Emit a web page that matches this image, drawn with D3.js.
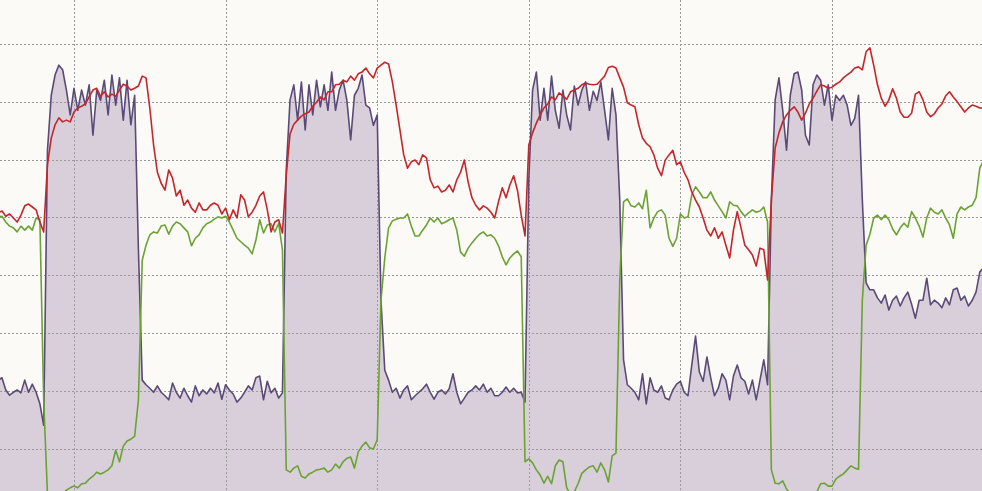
<!DOCTYPE html>
<html>
<head>
<meta charset="utf-8">
<script src="https://cdn.jsdelivr.net/npm/d3@7"></script>
<style>
html,body{margin:0;padding:0;background:#fbfaf6;overflow:hidden;}
svg{display:block;}
</style>
</head>
<body>
<svg id="chart" width="982" height="491"></svg>
<script>
// time axis: samples every 0.25 units starting at 5.0
const tStart = 5.0, tStep = 0.25;
const xTicks = [10, 20, 30, 40, 50, 60];
const yTicks = [0, 10, 20, 30, 40, 50, 60, 70];

const purple = [
11.9,12.3,10.2,9.3,9.8,10.2,9.7,11.9,9.8,11.2,9.8,7.8,4.1,51.6,61.1,64.6,66.3,65.5,62.0,57.7,
62.3,58.5,62.0,59.4,62.9,54.2,62.0,60.2,63.7,57.7,64.6,59.4,64.1,56.8,63.7,56.0,61.1,34.4,11.9,11.1,
10.5,9.8,10.9,9.8,9.2,8.5,11.4,9.8,8.8,10.5,9.2,8.1,10.9,9.2,10.2,9.5,10.5,9.7,11.4,8.6,
11.1,10.2,9.5,8.1,8.8,9.8,10.9,10.2,12.3,12.6,8.5,11.7,9.7,10.5,8.8,9.7,48.2,60.3,62.9,56.8,
63.4,55.1,62.9,57.7,63.7,59.1,62.9,58.5,65.1,58.5,62.0,63.7,60.2,53.4,61.1,62.3,64.6,59.4,58.9,55.9,
57.7,25.7,13.6,11.9,9.8,10.5,8.8,10.2,10.9,8.5,9.2,9.8,10.4,11.2,9.8,8.6,9.8,10.2,9.5,10.4,
13.0,9.8,7.8,8.8,9.8,10.2,10.9,10.2,11.2,9.8,10.5,9.2,9.2,9.8,10.7,9.8,10.5,9.7,9.8,8.1,
46.5,62.0,65.1,56.8,62.3,56.8,64.4,58.5,55.4,62.0,57.7,55.1,62.7,59.4,62.0,63.4,58.5,61.8,60.2,63.4,
58.5,53.4,62.3,57.7,43.0,15.4,11.1,10.5,9.8,8.5,13.0,7.8,12.3,10.2,9.8,10.9,8.8,8.5,10.2,11.2,
11.7,9.8,9.2,14.5,19.5,13.3,11.7,15.9,12.3,9.2,10.5,13.0,11.9,8.5,12.6,14.5,12.3,11.7,9.5,11.9,
8.5,11.9,15.4,11.1,43.0,60.3,64.1,58.5,51.6,61.1,64.8,65.1,62.0,54.2,52.5,62.9,64.6,63.7,59.4,62.9,
56.8,61.1,60.2,61.1,59.4,55.9,57.1,61.1,43.0,28.7,27.5,27.5,26.1,25.2,26.6,24.0,25.7,26.4,24.7,26.1,
27.1,25.0,22.6,25.7,25.7,29.5,24.9,25.7,25.2,24.4,26.1,24.9,27.5,27.8,25.7,26.4,24.7,25.7,27.1,30.6,
31.3
];

const red = [
40.8,41.1,40.2,40.6,39.9,39.2,40.4,42.0,42.3,41.8,41.3,39.2,37.5,49.1,53.7,56.0,57.2,56.5,56.8,56.5,
58.2,58.9,59.2,59.6,60.8,62.0,62.3,60.9,61.7,60.8,61.3,60.9,62.0,63.0,62.7,62.0,62.3,62.7,64.4,64.1,
58.9,52.5,47.8,45.9,44.7,48.2,46.8,43.7,44.7,42.1,43.0,41.6,40.9,42.5,41.3,41.3,42.1,42.5,42.1,40.6,
41.6,39.6,41.3,39.9,43.9,43.0,40.1,40.9,42.1,43.7,44.4,41.3,37.5,39.2,39.6,37.3,47.3,54.4,56.1,56.8,
57.5,57.9,58.2,59.2,59.9,60.8,60.3,61.7,61.7,62.9,63.0,63.7,63.4,64.4,63.7,64.8,65.1,65.8,64.8,64.1,
65.8,66.3,66.8,66.5,63.4,59.4,55.1,50.8,48.5,49.6,49.9,49.1,50.8,50.3,46.5,45.1,45.4,44.4,44.7,45.6,
44.4,46.5,47.8,49.9,46.1,43.4,42.1,41.3,42.0,41.6,40.9,39.9,42.7,45.1,43.4,45.6,47.2,44.7,40.4,36.8,
52.5,54.6,56.3,57.7,58.9,59.6,60.8,60.3,61.5,61.0,60.4,61.7,62.0,62.3,62.9,63.2,63.0,62.9,63.0,63.7,
64.4,65.9,66.1,65.8,64.1,62.5,59.8,59.4,59.1,56.0,53.7,52.8,52.2,50.8,48.5,47.2,49.9,50.8,51.6,49.1,
49.6,47.8,46.5,44.4,43.0,41.8,39.9,37.8,36.8,38.2,36.4,37.5,35.2,33.0,37.8,41.0,38.2,35.2,34.4,33.5,
31.6,34.7,34.4,29.2,43.0,52.0,54.6,56.5,57.7,58.5,59.1,58.2,56.8,58.0,59.6,60.6,61.8,62.9,62.7,62.3,
62.5,63.0,63.4,64.1,64.6,65.1,65.8,66.0,65.5,68.6,69.3,66.3,62.9,60.6,59.2,60.3,62.2,60.6,58.2,57.3,
57.3,58.0,61.3,61.7,60.3,58.2,57.4,57.9,58.9,59.6,61.0,61.7,60.8,60.0,59.1,58.2,58.9,59.4,59.2,58.9,
58.9
];

const green = [
40.1,40.2,39.2,38.5,38.2,37.5,38.5,37.8,38.5,37.8,39.9,39.6,8.5,-7.9,-8.3,-8.5,-8.1,-7.8,-7.1,-6.7,
-6.4,-6.7,-6.0,-5.9,-5.2,-4.7,-4.0,-4.3,-4.0,-3.6,-2.9,-0.2,-2.2,0.5,1.4,1.7,2.2,8.5,32.6,35.2,
37.0,37.5,37.3,38.5,38.7,37.1,38.5,39.2,38.9,38.2,37.5,35.1,36.4,37.0,38.2,38.9,39.2,39.7,40.1,39.9,
40.2,39.2,37.8,36.4,35.8,35.2,34.7,33.7,36.1,39.6,37.3,38.7,38.9,37.5,39.0,34.4,-3.6,-4.0,-3.3,-2.9,
-4.7,-5.0,-4.3,-4.0,-3.6,-3.5,-3.3,-4.0,-3.6,-2.6,-3.3,-2.2,-1.6,-1.4,-3.3,-0.5,0.5,1.2,0.2,0.0,
1.6,25.7,33.0,38.2,39.4,39.7,39.9,39.9,40.6,38.5,36.8,36.8,37.8,38.7,39.9,39.2,39.9,38.9,39.2,39.6,
39.9,37.8,34.0,33.3,34.7,35.6,36.4,37.1,37.5,36.8,37.0,36.4,35.1,33.2,31.8,33.0,33.7,34.2,33.2,-2.2,
-1.7,-2.4,-3.6,-4.5,-5.9,-4.7,-6.0,-2.9,-1.9,-2.2,-6.7,-7.8,-7.4,-6.0,-4.2,-3.6,-3.1,-2.9,-4.0,-2.4,
-3.6,-5.7,-1.2,-0.7,29.2,42.7,43.2,42.0,41.8,42.5,41.5,44.7,38.2,39.9,41.0,41.3,40.4,36.4,35.0,36.4,
40.6,39.9,40.1,43.9,45.3,44.4,43.4,43.4,44.4,43.0,42.0,41.0,39.9,42.7,42.1,42.0,41.0,40.2,40.8,41.3,
40.9,41.1,41.8,39.2,-3.6,-5.9,-6.0,-5.5,-6.9,-7.8,-8.1,-8.1,-7.4,-7.9,-8.1,-7.8,-7.4,-6.0,-5.9,-6.4,
-6.4,-5.2,-4.7,-4.3,-3.6,-2.9,-3.3,-3.5,25.7,35.2,37.1,39.9,40.4,39.6,40.4,39.6,38.0,37.0,38.2,39.0,
38.3,41.0,39.9,38.5,36.6,39.9,41.6,40.9,40.6,41.3,39.9,38.7,36.4,40.6,41.8,41.3,41.8,42.1,43.4,48.5,
49.9
];

const W = 982, H = 491;
const svg = d3.select('#chart');

const x = d3.scaleLinear().domain([10 - 74/15.16, 10 + (982-74)/15.16]).range([0, W]);
const y = d3.scaleLinear().domain([-7.25, 77.55]).range([H, 0]);

const tAt = i => tStart + i * tStep;
const rows = s => s.map((v, i) => ({t: tAt(i), v}));

svg.append('rect').attr('width', W).attr('height', H).attr('fill', '#fbfaf6');

// purple area
const area = d3.area().x(d => x(d.t)).y0(H + 5).y1(d => y(d.v));
svg.append('path').datum(rows(purple))
  .attr('d', area)
  .attr('fill', '#d8cfdb');

// grid
const grid = svg.append('g');
grid.selectAll('line.v').data(xTicks).join('line')
  .attr('x1', d => Math.round(x(d)) + 0.5).attr('x2', d => Math.round(x(d)) + 0.5)
  .attr('y1', 0).attr('y2', H)
  .attr('stroke', '#9a9a9a').attr('stroke-width', 1).attr('stroke-dasharray', '2,2');
grid.selectAll('line.h').data(yTicks).join('line')
  .attr('y1', d => Math.round(y(d)) + 0.5).attr('y2', d => Math.round(y(d)) + 0.5)
  .attr('x1', 0).attr('x2', W)
  .attr('stroke', '#9a9a9a').attr('stroke-width', 1).attr('stroke-dasharray', '2,2');

const line = d3.line().x(d => x(d.t)).y(d => y(d.v));

svg.append('path').datum(rows(purple))
  .attr('d', line).attr('fill', 'none')
  .attr('stroke', '#5b4a78').attr('stroke-width', 1.6).attr('stroke-linejoin', 'round');

svg.append('path').datum(rows(green))
  .attr('d', line).attr('fill', 'none')
  .attr('stroke', '#6aa334').attr('stroke-width', 1.6).attr('stroke-linejoin', 'round');

svg.append('path').datum(rows(red))
  .attr('d', line).attr('fill', 'none')
  .attr('stroke', '#c4262b').attr('stroke-width', 1.6).attr('stroke-linejoin', 'round');
</script>
</body>
</html>
